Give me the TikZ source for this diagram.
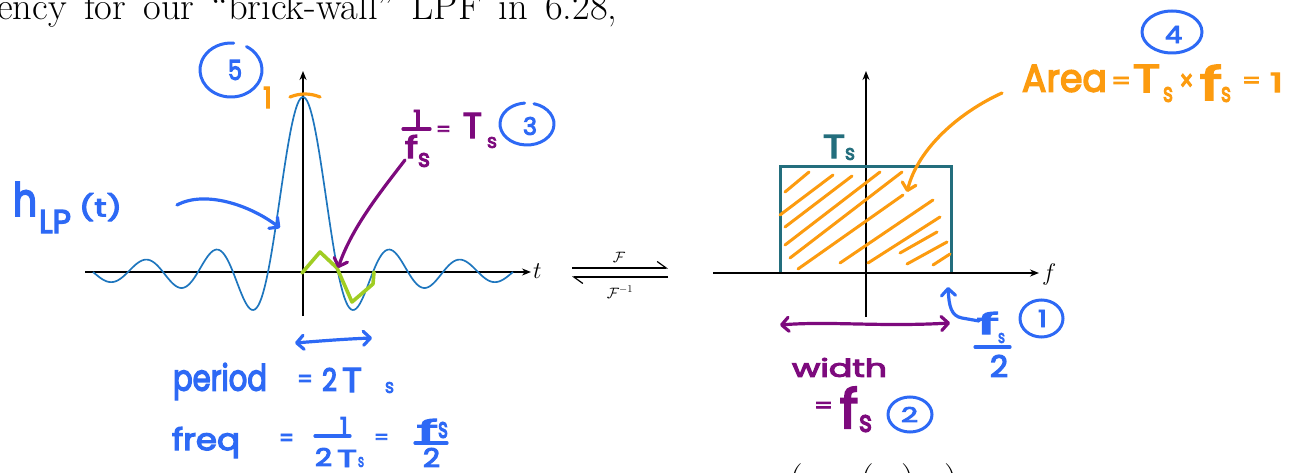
\RequirePackage{fix-cm}
\documentclass[tikz,border=0pt]{standalone}
\usepackage{fontspec}
\usepackage{graphicx}
\usetikzlibrary{arrows.meta}
\newfontfamily\hand{Poppins}[FakeBold=4]
\definecolor{hblue}{RGB}{45,105,245}
\definecolor{hpurple}{RGB}{125,10,125}
\definecolor{horange}{RGB}{252,155,15}
\definecolor{hteal}{RGB}{35,110,125}
\definecolor{sincblue}{RGB}{30,118,190}
\definecolor{hgreen}{RGB}{160,205,35}
\newcommand\fitbox[3]{\resizebox*{#1pt}{#2pt}{#3}}
\begin{document}
\begin{tikzpicture}[x=1pt,y=-1pt,
  hand/.style={line width=3.2pt,line cap=round,line join=round},
  ht/.style={inner sep=0pt,outer sep=0pt,anchor=north west,font=\hand},
  hbarb/.style={-{Straight Barb[length=7pt,width=14pt,round]}},
  hbarbs/.style={{Straight Barb[length=7pt,width=14pt,round]}-{Straight Barb[length=7pt,width=14pt,round]}},
  axisline/.style={line width=1.6pt,-{Stealth[length=9pt,width=7pt]}},
  mathlab/.style={inner sep=0pt,anchor=west,font=\fontsize{24}{24}\selectfont},
  hatch/.style={horange,line width=3pt,line cap=round},
  ring/.style={hblue,line width=3pt,line cap=round}
]
\useasboundingbox (0,0) rectangle (1300,473);
\clip (0,0) rectangle (1300,473);

% top text (cut off)
\node[anchor=base west,inner sep=0pt,font=\fontsize{38.5}{40}\selectfont] (toptext) at (-3,19.5)
  {\spaceskip=0.45em ency for our ``brick-wall'' LPF in 6.28,};

% ---------- left plot ----------
\coordinate (tL) at (85,272); \coordinate (tR) at (531,272);
\coordinate (vB) at (303,316); \coordinate (vT) at (303,71);
\draw[axisline] (tL) -- (tR);
\draw[axisline] (vB) -- (vT);
\node[mathlab] (tlab) at (533,271) {$t$};

\draw[sincblue,line width=1.7pt,line join=round]
  plot[domain=-6:6,samples=250] ({303+35*\x},{272-175*sin(180*\x)/(pi*\x)});

\draw[hgreen,line width=3.6pt,line join=round,line cap=round]
  (302,273) -- (320,252) -- (337,268) -- (352,302) -- (373,284) -- (374,272);

% orange 1 at peak
\draw[horange,hand] (290,97) .. controls (300,93) and (310,93) .. (320,97);
\node[ht,text=horange] (one) at (263,87) {\fitbox{9}{21}{1}};

% circle 5
\draw[ring,shift={(231,70)}] (-60:31 and 27) arc[start angle=-60,end angle=275,x radius=31,y radius=27];
\node[ht,text=hblue] (five) at (228,60) {\fitbox{14}{20}{5}};

% h_LP(t)
\node[ht,text=hblue] (hh) at (13,182) {\fitbox{24}{34}{h}};
\node[ht,text=hblue] (hLP) at (39,210) {\fitbox{32}{23}{LP}};
\node[ht,text=hblue] (ht) at (79,193) {\fitbox{43}{28}{(t)}};
\coordinate (hA) at (177,205); \coordinate (hB) at (280,228);
\draw[hblue,hand,hbarb] (hA) .. controls (205,190) and (250,205) .. (hB);

% 1/fs = Ts (3)
\node[ht,text=hpurple] (p1) at (413,110) {\fitbox{9}{17}{1}};
\coordinate (pb1) at (403,129); \coordinate (pb2) at (430,129);
\draw[hpurple,hand] (pb1) -- (pb2);
\node[ht,text=hpurple] (pf) at (405,135) {\fitbox{13}{23}{f}};
\node[ht,text=hpurple] (ps) at (418,153) {\fitbox{12}{14}{s}};
\node[ht,text=hpurple] (peq) at (436,126) {\fitbox{15}{10}{=}};
\node[ht,text=hpurple] (pT) at (463,113) {\fitbox{19}{25}{T}};
\node[ht,text=hpurple] (pTs) at (487,137) {\fitbox{10}{11}{s}};
\draw[ring,shift={(527,124)}] (-75:27 and 21) arc[start angle=-75,end angle=265,x radius=27,y radius=21];
\node[ht,text=hblue] (three) at (523,117) {\fitbox{14}{18}{3}};
\coordinate (pA) at (405,160); \coordinate (pB) at (338,268);
\draw[hpurple,hand,hbarb] (pA) .. controls (378,195) and (352,228) .. (pB);

% period / freq
\coordinate (dl) at (295,343); \coordinate (dr) at (372,338);
\draw[hblue,hand,hbarbs] (dl) .. controls (320,341) and (345,339) .. (dr);
\node[ht,text=hblue] (period) at (173,363) {\fitbox{94}{37}{period}};
\node[ht,text=hblue] (eq1) at (297,375) {\fitbox{16}{12}{=}};
\node[ht,text=hblue] (two1) at (322,368) {\fitbox{15}{23}{2}};
\node[ht,text=hblue] (T1) at (342,368) {\fitbox{20}{24}{T}};
\node[ht,text=hblue] (s1) at (385,382) {\fitbox{9}{11}{s}};
\node[ht,text=hblue] (freq) at (172,427) {\fitbox{68}{31}{freq}};
\node[ht,text=hblue] (eq2) at (279,434) {\fitbox{15}{12}{=}};
\node[ht,text=hblue] (n1) at (340,417) {\fitbox{8}{18}{1}};
\coordinate (fb1) at (315,436); \coordinate (fb2) at (350,436);
\draw[hblue,hand] (fb1) -- (fb2);
\node[ht,text=hblue] (d2) at (315,448) {\fitbox{17}{18}{2}};
\node[ht,text=hblue] (dT) at (337,450) {\fitbox{20}{17}{T}};
\node[ht,text=hblue] (ds) at (358,457) {\fitbox{6}{10}{s}};
\node[ht,text=hblue] (eq3) at (374,434) {\fitbox{15}{10}{=}};
\node[ht,text=hblue] (nf) at (417,419) {\fitbox{21}{22}{f}};
\node[ht,text=hblue] (ns) at (438,422) {\fitbox{10}{16}{s}};
\coordinate (fb3) at (415,443); \coordinate (fb4) at (447,443);
\draw[hblue,hand] (fb3) -- (fb4);
\node[ht,text=hblue] (d22) at (423,448) {\fitbox{17}{19}{2}};

% ---------- Fourier pair ----------
\coordinate (FL1) at (572,268); \coordinate (FR1) at (668,268);
\coordinate (FL2) at (572,277); \coordinate (FR2) at (668,277);
\draw[line width=1.2pt,-{Straight Barb[harpoon,length=9pt,width=13pt]}] (FL1) -- (FR1);
\draw[line width=1.2pt,-{Straight Barb[harpoon,length=9pt,width=13pt]}] (FR2) -- (FL2);
\node[font=\fontsize{15}{15}\selectfont,inner sep=0pt] (F1) at (619,257) {$\mathcal{F}$};
\node[font=\fontsize{15}{15}\selectfont,inner sep=0pt] (F2) at (620,292) {$\mathcal{F}^{-1}$};

% ---------- right plot ----------
\coordinate (fL) at (713,273); \coordinate (fR) at (1039,273);
\coordinate (wB) at (866,317); \coordinate (wT) at (866,71);
\draw[axisline] (fL) -- (fR);
\draw[axisline] (wB) -- (wT);
\node[mathlab] (flab) at (1042,274) {$f$};

\coordinate (r1) at (780,272); \coordinate (r2) at (780,167);
\coordinate (r3) at (951,167); \coordinate (r4) at (951,272);
\draw[hteal,line width=3pt] (r1) -- (r2) -- (r3) -- (r4);
\node[ht,text=hteal] (tT) at (823,135) {\fitbox{22}{23}{T}};
\node[ht,text=hteal] (tS) at (845,148) {\fitbox{10}{12}{s}};

% hatch
\draw[hatch] (785,192) -- (809,172);
\draw[hatch] (780,215) -- (833,175);
\draw[hatch] (785,227) -- (852,176);
\draw[hatch] (785,245) -- (880,172);
\draw[hatch] (790,258) -- (902,172);
\draw[hatch] (798,269) -- (903,195);
\draw[hatch] (840,263) -- (933,200);
\draw[hatch] (868,263) -- (940,217);
\draw[hatch] (900,253) -- (937,232);
\draw[hatch] (907,264) -- (947,242);
\draw[hatch] (933,265) -- (950,254);

% Area = Ts x fs = 1 (4)
\coordinate (oa) at (1002,93); \coordinate (ob) at (907,192);
\draw[horange,hand,hbarb] (oa) .. controls (960,112) and (918,148) .. (ob);
\node[ht,text=horange] (area) at (1022,65) {\fitbox{85}{27}{Area}};
\node[ht,text=horange] (aeq) at (1111,77) {\fitbox{20}{12}{=}};
\node[ht,text=horange] (aT) at (1133,65) {\fitbox{27}{27}{T}};
\node[ht,text=horange] (aTs) at (1163,87) {\fitbox{10}{15}{s}};
\node[ht,text=horange] (ax) at (1179,74) {\fitbox{15}{17}{×}};
\node[ht,text=horange] (af) at (1200,65) {\fitbox{22}{35}{f}};
\node[ht,text=horange] (afs) at (1221,87) {\fitbox{10}{15}{s}};
\node[ht,text=horange] (aeq2) at (1242,77) {\fitbox{19}{11}{=}};
\node[ht,text=horange] (aone) at (1270,73) {\fitbox{13}{19}{1}};
\draw[ring] (1172,32) ellipse[x radius=30,y radius=21];
\node[ht,text=hblue] (four) at (1165,26) {\fitbox{17}{17}{4}};

% fs/2 (1)
\coordinate (hk1) at (979,321); \coordinate (hk2) at (948,287);
\draw[hblue,hand,hbarb] (hk1) -- (962,318) .. controls (951,316) and (949,306) .. (hk2);
\node[ht,text=hblue] (rf) at (977,312) {\fitbox{22}{22}{f}};
\node[ht,text=hblue] (rs) at (998,333) {\fitbox{7}{10}{s}};
\coordinate (fb5) at (975,347); \coordinate (fb6) at (1010,347);
\draw[hblue,hand] (fb5) -- (fb6);
\node[ht,text=hblue] (r2n) at (990,355) {\fitbox{18}{22}{2}};
\draw[ring] (1041.5,318.5) ellipse[x radius=21.5,y radius=18.5];
\node[ht,text=hblue] (oneC) at (1038,310) {\fitbox{9}{17}{1}};

% width = fs (2)
\coordinate (wa) at (780,325); \coordinate (wb) at (950,323);
\draw[hpurple,hand,hbarbs] (wa) .. controls (830,321) and (880,327) .. (wb);
\node[ht,text=hpurple] (width) at (792,358) {\fitbox{95}{19}{width}};
\node[ht,text=hpurple] (weq) at (814,402) {\fitbox{19}{11}{=}};
\node[ht,text=hpurple] (wf) at (840,387) {\fitbox{18}{41}{f}};
\node[ht,text=hpurple] (ws) at (859,415) {\fitbox{13}{17}{s}};
\draw[ring] (910,414.5) ellipse[x radius=22,y radius=17.5];
\node[ht,text=hblue] (twoC) at (901,407) {\fitbox{17}{15}{2}};

% bottom parentheses (cut off)
\node[anchor=north,inner sep=0pt,font=\fontsize{38.5}{40}\selectfont] (par1) at (796,463) {$\Bigg($};
\node[anchor=north,inner sep=0pt,font=\fontsize{38.5}{40}\selectfont] (par2) at (867,463) {$\Bigg($};
\node[anchor=north,inner sep=0pt,font=\fontsize{38.5}{40}\selectfont] (par3) at (908,463) {$\Bigg)$};
\node[anchor=north,inner sep=0pt,font=\fontsize{38.5}{40}\selectfont] (par4) at (951,463) {$\Bigg)$};
\end{tikzpicture}
\end{document}
